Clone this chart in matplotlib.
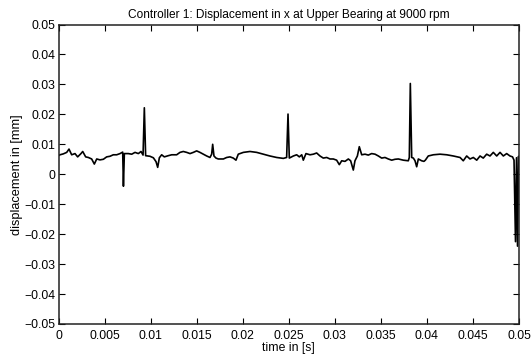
import matplotlib
matplotlib.use("Agg")
import matplotlib.pyplot as plt
from matplotlib.ticker import FixedLocator, FixedFormatter

# time [s]
time_s = [
    0.0, 0.00016, 0.00052, 0.00089, 0.00114, 0.00143, 0.00179, 0.00208, 0.00244, 0.00263,
    0.00295, 0.00324, 0.0036, 0.00389, 0.00415, 0.0045, 0.00487, 0.00523, 0.00559, 0.00595,
    0.00632, 0.00668, 0.00697, 0.00705, 0.00715, 0.00758, 0.00795, 0.00831, 0.00867, 0.00896,
    0.00918, 0.00932, 0.00946, 0.00993, 0.01030, 0.01059, 0.01077, 0.01095, 0.0112,
    0.01149, 0.01192, 0.01229, 0.01283, 0.01319, 0.01355, 0.01392, 0.01428, 0.01464, 0.01500,
    0.01536, 0.01572, 0.01609, 0.01645, 0.01663, 0.01674, 0.01688, 0.01710, 0.01735, 0.01790,
    0.01826, 0.01862, 0.01898, 0.01927, 0.01952, 0.02007, 0.02079, 0.02152, 0.02224, 0.02296,
    0.02369, 0.02441, 0.02477, 0.02492, 0.02506,
    0.02550, 0.02586, 0.02615, 0.02641, 0.02658, 0.02687, 0.02731, 0.02767, 0.02803, 0.02839,
    0.02875, 0.02912, 0.02948, 0.02984, 0.03020, 0.03049, 0.03075, 0.03111, 0.03147, 0.03172,
    0.03201, 0.03219, 0.03245, 0.03266, 0.03292, 0.03328, 0.03364, 0.03400, 0.03437, 0.03473,
    0.03509, 0.03545, 0.03581, 0.03618, 0.03654, 0.03690, 0.03744, 0.03798, 0.03809, 0.03820,
    0.03835, 0.03853, 0.03871, 0.03889, 0.03907, 0.03943, 0.03968, 0.03983, 0.04015, 0.04070,
    0.04142, 0.04215, 0.04287, 0.04360, 0.04395, 0.04432, 0.04468, 0.04504, 0.04541, 0.04577,
    0.04612, 0.04649, 0.04685, 0.04721, 0.04758, 0.04794, 0.04830, 0.04866, 0.04902, 0.04930,
    0.04946, 0.04962, 0.04973, 0.04984, 0.04995, 0.0500,
]

# displacement in x [mm]
displacement_mm = [
    0.0062, 0.0065, 0.0068, 0.0073, 0.0084, 0.0065, 0.0069, 0.0058, 0.0069, 0.0076,
    0.0058, 0.0056, 0.0051, 0.0034, 0.0051, 0.0048, 0.0050, 0.0058, 0.0060, 0.0065,
    0.0065, 0.0069, 0.0074, -0.0040, 0.0069, 0.0069, 0.0067, 0.0073, 0.0069, 0.0076,
    0.0064, 0.0222, 0.0062, 0.0060, 0.0055, 0.0042, 0.0023, 0.0055, 0.0065,
    0.0058, 0.0062, 0.0065, 0.0065, 0.0073, 0.0076, 0.0073, 0.0069, 0.0073, 0.0078,
    0.0073, 0.0067, 0.0061, 0.0056, 0.0067, 0.0100, 0.0061, 0.0054, 0.0051, 0.0051,
    0.0056, 0.0058, 0.0054, 0.0047, 0.0067, 0.0073, 0.0076, 0.0073, 0.0067, 0.0061,
    0.0056, 0.0053, 0.0056, 0.0201, 0.0054,
    0.0061, 0.0065, 0.0058, 0.0065, 0.0047, 0.0069, 0.0065, 0.0067, 0.0071, 0.0061,
    0.0054, 0.0056, 0.0051, 0.0051, 0.0047, 0.0032, 0.0045, 0.0043, 0.0051, 0.0045,
    0.0014, 0.0045, 0.0061, 0.0092, 0.0065, 0.0067, 0.0064, 0.0069, 0.0067, 0.0061,
    0.0054, 0.0056, 0.0051, 0.0047, 0.0050, 0.0051, 0.0047, 0.0045, 0.0056, 0.0303,
    0.0056, 0.0054, 0.0045, 0.0025, 0.0051, 0.0045, 0.0043, 0.0047, 0.0061, 0.0065,
    0.0067, 0.0065, 0.0061, 0.0056, 0.0045, 0.0061, 0.0051, 0.0056, 0.0047, 0.0061,
    0.0054, 0.0067, 0.0061, 0.0073, 0.0061, 0.0073, 0.0061, 0.0069, 0.0061, 0.0058,
    0.0047, -0.0225, 0.0055, -0.0240, 0.0060, 0.0050,
]

x_ticks = [0, 0.005, 0.01, 0.015, 0.02, 0.025, 0.03, 0.035, 0.04, 0.045, 0.05]
x_tick_labels = ["0", "0.005", "0.01", "0.015", "0.02", "0.025", "0.03", "0.035", "0.04", "0.045", "0.05"]
y_ticks = [-0.05, -0.04, -0.03, -0.02, -0.01, 0, 0.01, 0.02, 0.03, 0.04, 0.05]
y_tick_labels = ["\u22120.05", "\u22120.04", "\u22120.03", "\u22120.02", "\u22120.01", "0",
                 "0.01", "0.02", "0.03", "0.04", "0.05"]

title = "Controller 1: Displacement in x at Upper Bearing at 9000 rpm"
xlabel = "time in [s]"
ylabel = "displacement in [mm]"

plt.rcParams["font.family"] = ["Liberation Sans", "DejaVu Sans"]

fig = plt.figure(figsize=(5.32, 3.60), dpi=100)
ax = fig.add_axes([58.5 / 532, 36 / 360, (519 - 58.5) / 532, (324 - 24.5) / 360])

ax.plot(time_s, displacement_mm, color="black", linewidth=1.2)

ax.set_xlim(0, 0.05)
ax.set_ylim(-0.05, 0.05)
ax.xaxis.set_major_locator(FixedLocator(x_ticks))
ax.xaxis.set_major_formatter(FixedFormatter(x_tick_labels))
ax.yaxis.set_major_locator(FixedLocator(y_ticks))
ax.yaxis.set_major_formatter(FixedFormatter(y_tick_labels))
ax.tick_params(direction="in", top=True, right=True, length=4, width=0.8,
               labelsize=8.8, colors="black")
ax.tick_params(axis="x", pad=4)
ax.tick_params(axis="y", pad=2)
for s in ax.spines.values():
    s.set_linewidth(1.1)
    s.set_color("#222222")

ax.set_title(title, fontsize=8.6, pad=5)
ax.set_xlabel(xlabel, fontsize=8.8, labelpad=0)
ax.set_ylabel(ylabel, fontsize=9.2, labelpad=1)

fig.savefig("out.png", dpi=100)
